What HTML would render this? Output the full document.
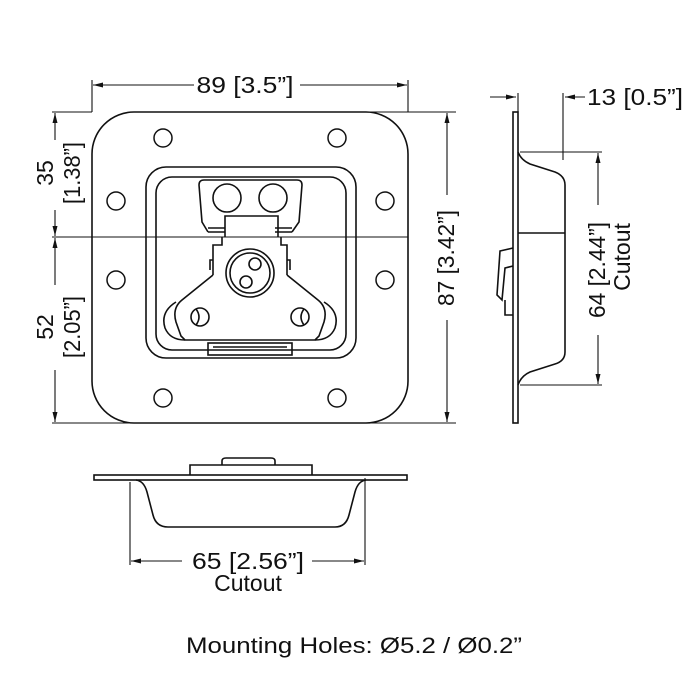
<!DOCTYPE html>
<html><head><meta charset="utf-8"><style>
html,body{margin:0;padding:0;background:#fff}
svg{display:block}
text{font-family:"Liberation Sans",sans-serif;fill:#111}
</style></head><body>
<svg width="700" height="700" viewBox="0 0 700 700" xmlns="http://www.w3.org/2000/svg">
<defs>
<marker id="a" markerWidth="10" markerHeight="6" refX="10" refY="3" orient="auto" markerUnits="userSpaceOnUse">
<path d="M0,0.5 L10,3 L0,5.5 z" fill="#111"/></marker>
</defs>
<g fill="none" stroke="#111" stroke-width="1.6">
<rect x="92" y="112" width="316" height="311" rx="42" ry="42"/>
<rect x="146" y="167" width="210" height="191" rx="20"/>
<rect x="156" y="177" width="190" height="173" rx="16"/>
<g stroke-width="1.5">
<circle cx="163" cy="138" r="9"/><circle cx="337" cy="138" r="9"/>
<circle cx="116" cy="201" r="9"/><circle cx="385" cy="201" r="9"/>
<circle cx="116" cy="280" r="9"/><circle cx="385" cy="280" r="9"/>
<circle cx="163" cy="398" r="9"/><circle cx="337" cy="398" r="9"/>
</g>
<path d="M208,232 L202,222 L199,185 Q199,180 204,180 L297,180 Q302,180 302,185 L299,222 L292,232"/>
<path d="M208,232 L225,232 M275,232 L292,232 M208,228 L225,228 M275,228 L292,228"/>
<circle cx="227" cy="198" r="14"/><circle cx="273" cy="198" r="14"/>
<path d="M225,237 L225,216 L278,216 L278,237 M222,237 L222,245 L213,245 L213,275 M281,237 L281,245 L287,245 L287,275"/>
<path d="M213,275 L182,300 Q172,308 176,322 L181,336 L185,340 L315,340 L319,336 L324,322 Q328,308 318,300 L287,275"/>
<path d="M176,302 Q160,312 165,328 Q170,340 185,340 M324,302 Q340,312 335,328 Q330,340 315,340"/>
<path d="M210,270 L210,260 L213,260 M290,270 L290,260 L287,260"/>
<circle cx="250" cy="273" r="24"/><circle cx="250" cy="273" r="20"/>
<circle cx="255" cy="264" r="6"/><circle cx="246" cy="282" r="6"/>
<circle cx="200" cy="317" r="9"/><path d="M196,309 Q202,317 196,325"/>
<circle cx="300" cy="317" r="9"/><path d="M304,309 Q298,317 304,325"/>
<rect x="208" y="343" width="84" height="12"/><path d="M213,347 L287,347"/>
</g>
<g fill="none" stroke="#111" stroke-width="1.1">
<path d="M92,80 L92,112 M408,80 L408,112"/>
<path d="M52,112 L92,112 M350,112 L456,112 M52,423 L456,423 M52,237 L408,237"/>
<line x1="194" y1="85" x2="93" y2="85" marker-end="url(#a)"/>
<line x1="300" y1="85" x2="407" y2="85" marker-end="url(#a)"/>
<line x1="55" y1="140" x2="55" y2="113" marker-end="url(#a)"/>
<line x1="55" y1="210" x2="55" y2="236" marker-end="url(#a)"/>
<line x1="55" y1="285" x2="55" y2="238" marker-end="url(#a)"/>
<line x1="55" y1="370" x2="55" y2="422" marker-end="url(#a)"/>
<line x1="447" y1="195" x2="447" y2="113" marker-end="url(#a)"/>
<line x1="447" y1="320" x2="447" y2="422" marker-end="url(#a)"/>
</g>
<text x="245" y="93" font-size="23" text-anchor="middle" textLength="97" lengthAdjust="spacingAndGlyphs">89 [3.5”]</text>
<text transform="translate(53,173) rotate(-90)" font-size="23" text-anchor="middle">35</text>
<text transform="translate(80,173) rotate(-90)" font-size="23" text-anchor="middle" textLength="62" lengthAdjust="spacingAndGlyphs">[1.38”]</text>
<text transform="translate(53,327) rotate(-90)" font-size="23" text-anchor="middle">52</text>
<text transform="translate(80,327) rotate(-90)" font-size="23" text-anchor="middle" textLength="62" lengthAdjust="spacingAndGlyphs">[2.05”]</text>
<text transform="translate(454,258) rotate(-90)" font-size="23" text-anchor="middle" textLength="96" lengthAdjust="spacingAndGlyphs">87 [3.42”]</text>
<g fill="none" stroke="#111" stroke-width="1.6">
<rect x="513" y="112" width="5" height="311"/>
<path d="M518,152 Q521,160 530,164 L555,172 Q565,176 565,185 L565,352 Q565,361 555,364 L530,372 Q521,376 518,385"/>
<path d="M518,233 L565,233"/>
<path d="M513,248 L500,251 L497,295 L502,300 L505,268 L513,266 M505,300 L505,315 L513,315"/>
</g>
<g fill="none" stroke="#111" stroke-width="1.1">
<path d="M518,93 L518,112 M563,93 L563,160 M520,152 L602,152 M520,385 L602,385"/>
<line x1="490" y1="97" x2="516" y2="97" marker-end="url(#a)"/>
<line x1="585" y1="97" x2="565" y2="97" marker-end="url(#a)"/>
<line x1="598" y1="205" x2="598" y2="153" marker-end="url(#a)"/>
<line x1="598" y1="335" x2="598" y2="384" marker-end="url(#a)"/>
</g>
<text x="587" y="105" font-size="23" textLength="96" lengthAdjust="spacingAndGlyphs">13 [0.5”]</text>
<text transform="translate(605,270) rotate(-90)" font-size="23" text-anchor="middle" textLength="96" lengthAdjust="spacingAndGlyphs">64 [2.44”]</text>
<text transform="translate(630,257) rotate(-90)" font-size="23" text-anchor="middle">Cutout</text>
<g fill="none" stroke="#111" stroke-width="1.6">
<rect x="94" y="475" width="313" height="5"/>
<path d="M190,475 L190,465 L312,465 L312,475 M222,465 L222,461 Q222,458 226,458 L271,458 Q275,458 275,461 L275,465"/>
<path d="M136,480 Q144,481 147,492 L153,515 Q156,527 168,527 L335,527 Q346,527 349,515 L355,492 Q358,481 366,480"/>
</g>
<g fill="none" stroke="#111" stroke-width="1.1">
<path d="M130,482 L130,565 M365,478 L365,565"/>
<line x1="182" y1="561" x2="131" y2="561" marker-end="url(#a)"/>
<line x1="312" y1="561" x2="364" y2="561" marker-end="url(#a)"/>
</g>
<text x="248" y="569" font-size="23" text-anchor="middle" textLength="112" lengthAdjust="spacingAndGlyphs">65 [2.56”]</text>
<text x="248" y="591" font-size="23" text-anchor="middle">Cutout</text>
<text x="186" y="653" font-size="22" textLength="336" lengthAdjust="spacingAndGlyphs">Mounting Holes: Ø5.2 / Ø0.2”</text>
</svg>
</body></html>
